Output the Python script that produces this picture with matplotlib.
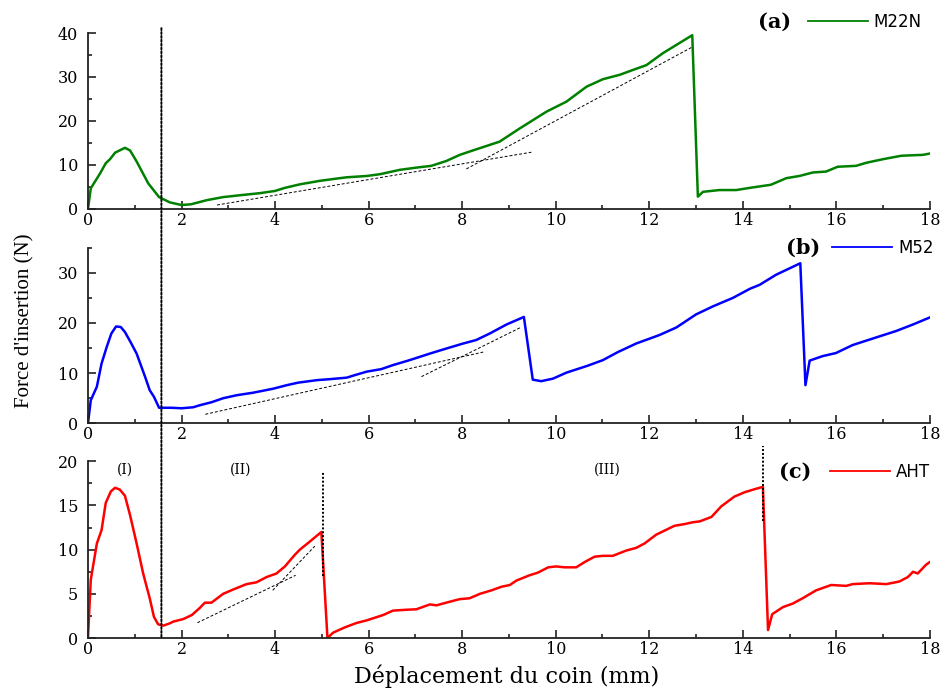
import matplotlib
matplotlib.use("Agg")
import matplotlib.pyplot as plt
from matplotlib.patches import ConnectionPatch
from matplotlib.ticker import MultipleLocator

# --- data ---
# (a) M22N
m22n_x = [0, 0.06, 0.26, 0.38, 0.47, 0.58, 0.79, 0.9, 1.04, 1.29, 1.52, 1.75, 2.0, 2.2,
          2.54, 2.89, 3.32, 3.68, 4.0, 4.21, 4.53, 4.96, 5.24, 5.53, 5.96, 6.24, 6.67,
          7.02, 7.34, 7.66, 7.95, 8.2, 8.8, 9.23, 9.8, 10.23, 10.66, 11.01, 11.37, 11.65,
          11.94, 12.29, 12.92, 13.04, 13.15, 13.5, 13.86, 14.15, 14.6, 14.93, 15.21, 15.5,
          15.78, 16.03, 16.42, 16.64, 16.99, 17.39, 17.85, 18.0]
m22n_y = [0, 4.7, 8.1, 10.4, 11.3, 12.8, 13.9, 13.3, 10.8, 5.8, 2.7, 1.5, 0.9, 1.06,
          2.0, 2.7, 3.2, 3.6, 4.1, 4.8, 5.6, 6.4, 6.8, 7.2, 7.5, 7.9, 8.9,
          9.4, 9.8, 10.9, 12.3, 13.2, 15.3, 18.3, 22.1, 24.4, 27.8, 29.5, 30.5, 31.6,
          32.7, 35.4, 39.5, 2.8, 3.9, 4.3, 4.3, 4.8, 5.5, 7.0, 7.5, 8.3,
          8.5, 9.6, 9.8, 10.5, 11.3, 12.1, 12.3, 12.6]

# (b) M52
m52_x = [0, 0.06, 0.19, 0.29, 0.4, 0.5, 0.6, 0.7, 0.79, 0.91, 1.04, 1.22, 1.32, 1.41,
         1.52, 1.62, 1.79, 2.0, 2.25, 2.39, 2.64, 2.89, 3.18, 3.53, 3.96, 4.25, 4.49,
         4.89, 5.17, 5.53, 5.74, 5.96, 6.27, 6.52, 6.88, 7.31, 7.66, 8.02, 8.3, 8.59,
         8.95, 9.32, 9.51, 9.69, 9.94, 10.23, 10.69, 11.01, 11.33, 11.72, 12.22, 12.58,
         13.0, 13.36, 13.79, 14.15, 14.36, 14.71, 15.23, 15.34, 15.43, 15.71, 15.99,
         16.35, 16.78, 17.28, 17.64, 18.0]
m52_y = [0, 4.6, 7.3, 11.9, 15.2, 17.9, 19.3, 19.2, 18.2, 16.2, 13.9, 9.3, 6.6, 5.3,
         3.1, 3.1, 3.1, 3.0, 3.2, 3.6, 4.2, 5.0, 5.6, 6.1, 6.9, 7.6, 8.1,
         8.6, 8.8, 9.1, 9.7, 10.3, 10.8, 11.6, 12.6, 13.9, 14.9, 15.9, 16.6, 17.9,
         19.7, 21.2, 8.7, 8.4, 8.9, 10.1, 11.5, 12.6, 14.2, 15.9, 17.6, 19.1,
         21.7, 23.3, 25.0, 26.8, 27.6, 29.6, 31.9, 7.6, 12.5, 13.4, 14.0,
         15.6, 16.9, 18.4, 19.7, 21.1]

# (c) AHT
aht_x = [0, 0.06, 0.19, 0.29, 0.38, 0.49, 0.58, 0.68, 0.79, 0.9, 1.04, 1.18, 1.32, 1.41,
         1.5, 1.61, 1.75, 1.82, 2.04, 2.22, 2.39, 2.5, 2.64, 2.89, 3.11, 3.39, 3.6, 3.82,
         4.03, 4.21, 4.42, 4.53, 4.74, 4.99, 5.12, 5.24, 5.49, 5.74, 5.96, 6.31, 6.52,
         6.81, 7.02, 7.31, 7.45, 7.73, 7.95, 8.16, 8.38, 8.63, 8.84, 9.02, 9.16, 9.44,
         9.62, 9.84, 10.01, 10.19, 10.44, 10.62, 10.83, 11.01, 11.22, 11.51, 11.72, 11.9,
         12.15, 12.54, 12.76, 12.93, 13.08, 13.33, 13.54, 13.82, 14.04, 14.29, 14.43,
         14.54, 14.63, 14.86, 15.07, 15.28, 15.57, 15.89, 16.21, 16.35, 16.71, 17.07,
         17.35, 17.53, 17.64, 17.74, 17.92, 18.0]
aht_y = [0, 6.6, 10.7, 12.2, 15.3, 16.6, 17.0, 16.8, 16.1, 13.9, 10.7, 7.3, 4.5, 2.4,
         1.55, 1.4, 1.66, 1.85, 2.15, 2.6, 3.4, 4.0, 4.0, 5.0, 5.5, 6.1, 6.3, 6.9,
         7.3, 8.1, 9.4, 10.0, 10.9, 12.0, 0, 0.6, 1.2, 1.7, 2.0, 2.6, 3.1,
         3.2, 3.25, 3.8, 3.7, 4.1, 4.4, 4.5, 5.0, 5.4, 5.8, 6.0, 6.5, 7.1,
         7.4, 8.0, 8.1, 8.0, 8.0, 8.6, 9.2, 9.3, 9.3, 9.9, 10.2, 10.7,
         11.7, 12.7, 12.9, 13.1, 13.2, 13.7, 14.9, 16.0, 16.5, 16.9, 17.1,
         0.9, 2.7, 3.5, 3.9, 4.5, 5.4, 6.0, 5.9, 6.1, 6.2, 6.1,
         6.4, 6.9, 7.5, 7.3, 8.3, 8.6]

# tangent (dashed) guide lines, pairs of end points
tan_a = [([2.76, 9.48], [0.9, 12.9]), ([8.09, 12.9], [9.1, 36.7])]
tan_b = [([2.51, 8.45], [1.8, 14.2]), ([7.13, 9.27], [9.3, 19.2])]
tan_c = [([2.34, 4.44], [1.73, 7.1]), ([3.95, 4.85], [5.4, 10.4])]

# stage boundaries (dotted)
stage_x = 1.57
break_c = [(5.03, 7.0, 18.8), (14.44, 13.2, 21.7)]
stage_labels = ['(I)', '(II)', '(III)']
stage_label_x = [0.8, 3.26, 11.1]

serif = 'DejaVu Serif'
plt.rcParams['font.family'] = serif

fig = plt.figure(figsize=(9.47, 6.89), dpi=100)
ax_a = fig.add_axes([0.0929, 0.6967, 0.889, 0.2554])
ax_b = fig.add_axes([0.0929, 0.3856, 0.889, 0.2549])
ax_c = fig.add_axes([0.0929, 0.0740, 0.889, 0.2565])

panels = [
    (ax_a, m22n_x, m22n_y, '#008000', 'M22N', '(a)', 40, 10, 5, tan_a, (0.855, 1.064), (0.815, 1.064)),
    (ax_b, m52_x, m52_y, '#0000ff', 'M52', '(b)', 35, 10, 5, tan_b, (0.884, 0.998), (0.849, 0.998)),
    (ax_c, aht_x, aht_y, '#ff0000', 'AHT', '(c)', 20, 5, 2.5, tan_c, (0.881, 0.94), (0.840, 0.94)),
]

for ax, x, y, col, name, tag, ytop, ymaj, ymin, tans, leg_xy, tag_xy in panels:
    ax.plot(x, y, color=col, lw=1.8, label=name)
    for tx, ty in tans:
        ax.plot(tx, ty, color='black', lw=0.7, dashes=(3, 2))
    ax.set_xlim(0, 18)
    ax.set_ylim(0, ytop)
    ax.spines['top'].set_visible(False)
    ax.spines['right'].set_visible(False)
    for s in ['left', 'bottom']:
        ax.spines[s].set_linewidth(1.3)
        ax.spines[s].set_color('#222222')
    ax.xaxis.set_major_locator(MultipleLocator(2))
    ax.xaxis.set_minor_locator(MultipleLocator(1))
    ax.yaxis.set_major_locator(MultipleLocator(ymaj))
    ax.yaxis.set_minor_locator(MultipleLocator(ymin))
    ax.tick_params(which='both', direction='in', width=1.2, labelsize=11.5, color='#222222')
    ax.tick_params(which='major', length=6)
    ax.tick_params(which='minor', length=3)
    ax.tick_params(axis='x', pad=2)
    ax.tick_params(axis='y', pad=7)
    ax.patch.set_visible(False)

    leg = ax.legend(loc='center left', bbox_to_anchor=leg_xy, frameon=False,
                    borderpad=0, borderaxespad=0, handlelength=3.6, handletextpad=0.35,
                    prop={'family': 'DejaVu Sans', 'size': 12})
    for h in leg.get_lines():
        h.set_linewidth(1.3)
    ax.text(tag_xy[0], tag_xy[1], tag, transform=ax.transAxes, ha='center', va='center',
            fontsize=15, fontweight='bold', family=serif)

# stage labels in panel (c)
for lab, lx in zip(stage_labels, stage_label_x):
    ax_c.text(lx, 19.1, lab, ha='center', va='center', fontsize=10)

# short dotted breaks in panel (c)
for bx, y0, y1 in break_c:
    ax_c.plot([bx, bx], [y0, y1], color='black', lw=1.4, ls=(0, (1, 1)), clip_on=False)

# long dotted line across all three panels
con = ConnectionPatch(xyA=(stage_x, 41.1), coordsA=ax_a.transData,
                      xyB=(stage_x, 0), coordsB=ax_c.transData,
                      color='black', lw=1.4, ls=(0, (1, 1)))
fig.add_artist(con)

fig.text(0.026, 0.534, "Force d'insertion (N)", rotation=90, ha='center', va='center',
         family='Liberation Serif', fontsize=15)
fig.text(0.535, 0.019, 'Déplacement du coin (mm)', ha='center', va='center', fontsize=16)

plt.savefig('out.png', dpi=100)
